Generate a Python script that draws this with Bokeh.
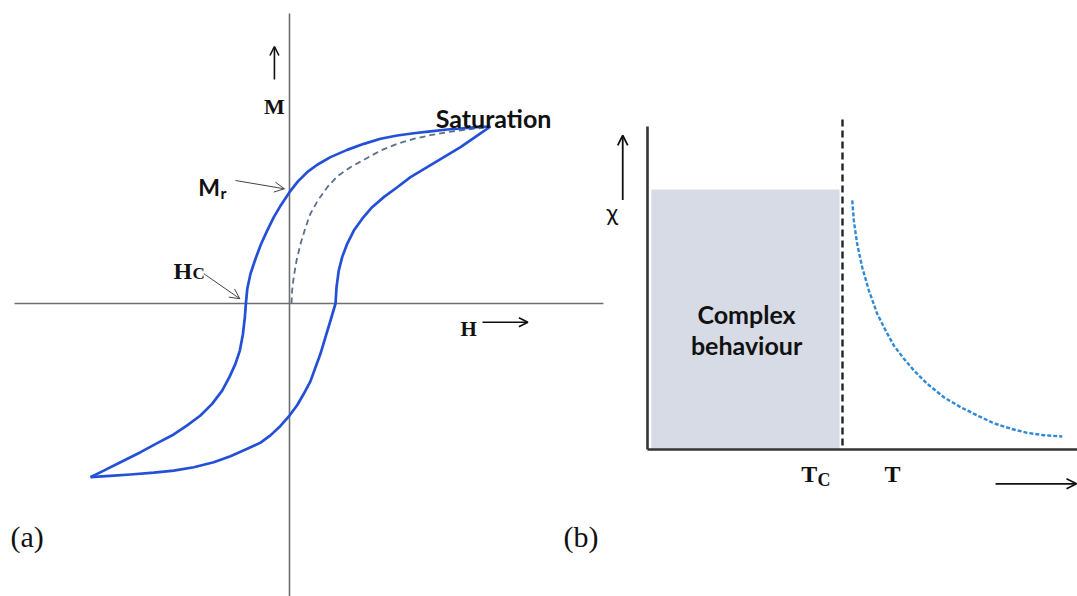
from bokeh.plotting import figure
from bokeh.models import Range1d, Arrow, OpenHead
from bokeh.core.properties import value
from bokeh.embed import file_html
from bokeh.resources import INLINE

# ---------------- (a) hysteresis loop, normalised to saturation (1, 1) ----------------
# descending branch: from +saturation back to -saturation
desc_H = [1.000, 0.934, 0.867, 0.785, 0.701, 0.618, 0.536, 0.453, 0.370, 0.287,
          0.204, 0.138, 0.088, 0.042, 0.000, -0.042, -0.078, -0.111, -0.142, -0.169,
          -0.194, -0.210, -0.217, -0.222, -0.232, -0.247, -0.269, -0.299, -0.335, -0.385,
          -0.443, -0.509, -0.576, -0.658, -0.741, -0.841, -0.924, -0.990]
desc_M = [1.000, 0.996, 0.990, 0.983, 0.973, 0.962, 0.949, 0.931, 0.902, 0.868,
          0.827, 0.784, 0.742, 0.690, 0.629, 0.557, 0.488, 0.412, 0.335, 0.253,
          0.168, 0.083, 0.000, -0.077, -0.175, -0.266, -0.341, -0.416, -0.492, -0.567,
          -0.633, -0.689, -0.740, -0.789, -0.840, -0.897, -0.944, -0.981]
# ascending branch: from -saturation up to +saturation
asc_H = [-0.990, -0.874, -0.791, -0.675, -0.576, -0.476, -0.377, -0.294, -0.210, -0.144,
         -0.095, -0.045, 0.000, 0.038, 0.071, 0.104, 0.129, 0.154, 0.179, 0.204,
         0.229, 0.234, 0.245, 0.262, 0.287, 0.320, 0.362, 0.411, 0.469, 0.536,
         0.602, 0.685, 0.768, 0.851, 0.934, 1.000]
asc_M = [-0.981, -0.973, -0.966, -0.956, -0.944, -0.925, -0.897, -0.863, -0.821, -0.786,
         -0.745, -0.692, -0.633, -0.575, -0.510, -0.440, -0.362, -0.284, -0.190, -0.096,
         0.000, 0.092, 0.186, 0.262, 0.337, 0.412, 0.479, 0.544, 0.601, 0.657,
         0.714, 0.770, 0.827, 0.883, 0.949, 1.000]
# initial magnetisation curve
virgin_H = [0.010, 0.013, 0.021, 0.035, 0.055, 0.080, 0.104, 0.141, 0.188, 0.237,
            0.303, 0.370, 0.453, 0.536, 0.618, 0.701, 0.785, 0.867, 0.967]
virgin_M = [0.000, 0.073, 0.149, 0.243, 0.337, 0.431, 0.507, 0.582, 0.657, 0.718,
            0.770, 0.812, 0.864, 0.902, 0.930, 0.951, 0.968, 0.981, 0.993]

# extents of the H and M axis lines
axis_H = [-1.368, 1.562]
axis_M = [-1.66, 1.638]

# ---------------- (b) susceptibility above and below Tc (T in units of Tc) ----------------
Tc = 1.0
Tc_line_chi = [0.015, 1.273]
chi_T = [1.050, 1.058, 1.075, 1.101, 1.135, 1.178, 1.221, 1.263, 1.315, 1.366,
         1.434, 1.520, 1.605, 1.691, 1.776, 1.862, 1.947, 2.033, 2.127]
chi_val = [0.958, 0.881, 0.791, 0.701, 0.612, 0.522, 0.458, 0.400, 0.349, 0.304,
           0.253, 0.201, 0.163, 0.131, 0.101, 0.080, 0.064, 0.055, 0.050]
complex_T = [0.02, 0.985]
complex_chi = [0.0, 1.0]
axis_T = [0.0, 2.30]
axis_chi = [0.0, 1.242]

p = figure(width=1077, height=596,
           x_range=Range1d(-1.4378, 3.9204), y_range=Range1d(-1.6554, 1.7119),
           x_axis_type=None, y_axis_type=None,
           output_backend="svg", toolbar_location=None,
           min_border=0, outline_line_color=None,
           background_fill_color="white", border_fill_color="white")
p.extra_x_ranges = {"T": Range1d(-3.3179, 2.2051)}
p.extra_y_ranges = {"chi": Range1d(-0.5654, 1.7269)}

LOOP = "#2350d6"
INK = "#111111"
SERIF = value("Liberation Serif")
SANS = value("Lato")


def label(x, y, s, font, size, align="left", bold=True, **kw):
    p.text(x=[x], y=[y], text=[s], text_font=font,
           text_font_style="bold" if bold else "normal",
           text_font_size=size, text_align=align, text_baseline="alphabetic",
           text_color=INK, **kw)


def arrow(x0, y0, x1, y1, width=1.6, size=9, color=INK, **kw):
    p.add_layout(Arrow(end=OpenHead(size=size, line_width=width, line_color=color),
                       x_start=x0, y_start=y0, x_end=x1, y_end=y1,
                       line_width=width, line_color=color, **kw))


# ---- panel (a) ----
p.segment(x0=[axis_H[0], 0], y0=[0, axis_M[0]], x1=[axis_H[1], 0], y1=[0, axis_M[1]],
          line_color="#6e6e6e", line_width=1.6)
p.line(virgin_H, virgin_M, line_color="#5a6f8e", line_width=1.8, line_dash="6 4")
p.line(desc_H, desc_M, line_color=LOOP, line_width=2.7, line_join="round")
p.line(asc_H, asc_M, line_color=LOOP, line_width=2.7, line_join="round")

label(-0.075, 1.113, "M", SERIF, "22px", align="center")
arrow(-0.075, 1.266, -0.075, 1.452)

label(0.851, -0.143, "H", SERIF, "21px")
arrow(0.960, -0.106, 1.186, -0.106)

label(1.015, 1.048, "Saturation", SANS, "25px", align="center")

# remanence
label(-0.346, 0.657, "M", SANS, "23px", align="right")
label(-0.343, 0.629, "r", SANS, "16px")
arrow(-0.269, 0.695, -0.025, 0.648, width=1.0, size=10, color="#444444")

# coercivity
label(-0.484, 0.186, "H", SERIF, "24px", align="right")
label(-0.483, 0.168, "C", SERIF, "17px")
arrow(-0.426, 0.168, -0.247, 0.027, width=1.0, size=10, color="#444444")

label(-1.388, -1.316, "(a)", SERIF, "30px", bold=False)

# ---- panel (b) ----
rb = dict(x_range_name="T", y_range_name="chi")
p.quad(left=[complex_T[0]], right=[complex_T[1]], bottom=[complex_chi[0]], top=[complex_chi[1]],
       fill_color="#d6dbe5", line_color=None, **rb)
p.segment(x0=[0, 0], y0=[0, axis_chi[0]], x1=[axis_T[1], 0], y1=[0, axis_chi[1]],
          line_color="#353535", line_width=2.6, **rb)
p.line([Tc, Tc], Tc_line_chi, line_color="#222222", line_width=2.4, line_dash="7 4", **rb)
p.line(chi_T, chi_val, line_color="#2f8ad6", line_width=2.4, line_dash="4 2", **rb)

label(0.508, 0.523, "Complex", SANS, "25px", align="center", **rb)
label(0.508, 0.400, "behaviour", SANS, "25px", align="center", **rb)

label(-0.181, 0.915, "χ", SANS, "24px", align="center", bold=False, **rb)
arrow(-0.127, 0.960, -0.127, 1.208, width=1.8, size=10, **rb)

label(0.870, -0.093, "T", SERIF, "24px", align="right", **rb)
label(0.872, -0.119, "C", SERIF, "18px", **rb)
label(1.256, -0.093, "T", SERIF, "24px", align="center", **rb)
arrow(1.785, -0.132, 2.200, -0.132, width=1.8, size=10, **rb)

label(-0.431, -0.335, "(b)", SERIF, "30px", bold=False, **rb)

open("out.html", "w").write(file_html(p, INLINE))
